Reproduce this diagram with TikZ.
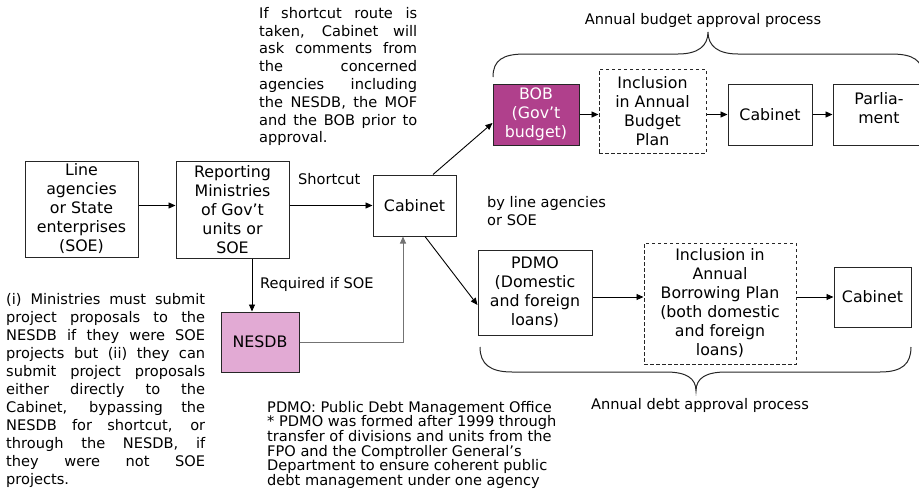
\documentclass[tikz,border=0pt]{standalone}
\usepackage{fontspec}
\setmainfont{DejaVu Sans}
\usetikzlibrary{arrows.meta,calc}
\definecolor{bobc}{RGB}{176,64,140}
\definecolor{nesc}{RGB}{226,170,212}
\tolerance=10000
\hbadness=10000
\hyphenpenalty=10000
\begin{document}
\begin{tikzpicture}[x=1pt,y=-1pt,
  box/.style={draw=black!85, line width=1pt, align=center, inner sep=1pt, font=\fontsize{15.8}{19}\selectfont},
  dbox/.style={box, dash pattern=on 3.5pt off 2.5pt},
  arr/.style={line width=0.9pt, -{Triangle[length=7pt,width=6pt]}},
  note/.style={inner sep=0pt, font=\fontsize{14.6}{17.8}\selectfont},
  brace/.style={line width=1pt, black!85}]
\useasboundingbox (0,0) rectangle (919,490);
\clip (0,0) rectangle (919,490);

% boxes
\node[box, minimum width=113pt, minimum height=96pt] (line) at (81.5,209) {Line\\agencies\\or State\\enterprises\\(SOE)};
\node[box, minimum width=113pt, minimum height=97pt] (rep) at (232.5,209.5) {Reporting\\Ministries\\of Gov’t\\units or\\SOE};
\node[box, minimum width=83pt, minimum height=61pt] (cab) at (414.5,205.5) {Cabinet};
\node[box, fill=nesc, minimum width=78pt, minimum height=60pt] (nesdb) at (260,342) {NESDB};
\node[box, fill=bobc, text=white, minimum width=86pt, minimum height=61pt] (bob) at (536,114.5) {BOB\\(Gov’t\\budget)};
\node[dbox, minimum width=107pt, minimum height=84pt] (incl1) at (652.5,111) {Inclusion\\in Annual\\Budget\\Plan};
\node[box, minimum width=84pt, minimum height=61pt] (cab2) at (770,114.5) {Cabinet};
\node[box, minimum width=92pt, minimum height=61pt, text depth=14pt] (parl) at (879,114.5) {Parlia-\\ment};
\node[box, minimum width=114pt, minimum height=85pt] (pdmo) at (535,292.5) {PDMO\\(Domestic\\and foreign\\loans)};
\node[dbox, minimum width=152pt, minimum height=121pt] (incl2) at (720,303.5) {Inclusion in\\Annual\\Borrowing Plan\\(both domestic\\and foreign\\loans)};
\node[box, minimum width=77pt, minimum height=60pt] (cab3) at (872.5,297) {Cabinet};

% connectors
\draw[arr] (line.east |- cab.west) -- (rep.west |- cab.west);
\draw[arr] (rep.east |- cab.west) -- (cab.west);
\draw[arr] ([xshift=19.5pt]rep.south) -- ([xshift=19.5pt]rep.south |- nesdb.north);
\draw[arr, black!55] (nesdb.east) -| ([xshift=-11.5pt]cab.south);
\draw[arr] ([xshift=18.5pt]cab.north) -- ([yshift=-8.5pt]bob.west);
\draw[arr] ([xshift=10.5pt]cab.south) -- ([yshift=-12.5pt]pdmo.west);
\draw[arr] (bob.east) -- (bob.east -| incl1.west);
\draw[arr] (incl1.east |- cab2.west) -- (cab2.west);
\draw[arr] (cab2.east) -- (parl.west);
\draw[arr] (pdmo.east |- cab3.west) -- (incl2.west |- cab3.west);
\draw[arr] (incl2.east |- cab3.west) -- (cab3.west);

% braces
\draw[brace] (493,77) .. controls (493,60) and (503,54) .. (525,54) -- (678,54) .. controls (698,54) and (708,46) .. (708,32) .. controls (708,46) and (718,54) .. (738,54) -- (891,54) .. controls (913,54) and (923,60) .. (923,77);
\draw[brace] (480,347) .. controls (480,364) and (490,372) .. (512,372) -- (666,372) .. controls (686,372) and (696,378) .. (696,391) .. controls (696,378) and (706,372) .. (726,372) -- (880,372) .. controls (902,372) and (911,364) .. (911,347);

% labels
\node[note] (budgetlbl) at (703,20) {Annual budget approval process};
\node[note] (debtlbl) at (700,405) {Annual debt approval process};
\node[note, anchor=west] (shortlbl) at (298,179) {Shortcut};
\node[note, anchor=west] (reqlbl) at (260,284) {Required if SOE};
\node[note, anchor=west, align=left] (bylbl) at (487,211) {by line agencies\\or SOE};

% paragraphs
\node[note, text width=158pt, align=justify, anchor=north west] (topnote) at (259,7)
 {If shortcut route is\linebreak taken, Cabinet will\linebreak ask comments from\linebreak the concerned\linebreak agencies including\linebreak the NESDB, the MOF\linebreak and the BOB prior to\linebreak approval.};
\node[note, text width=199pt, align=justify, anchor=north west, font=\fontsize{14.6}{18}\selectfont] (leftnote) at (6,293)
 {(i) Ministries must submit\linebreak project proposals to the\linebreak NESDB if they were SOE\linebreak projects but (ii) they can\linebreak submit project proposals\linebreak either directly to the\linebreak Cabinet, bypassing the\linebreak NESDB for shortcut, or\linebreak through the NESDB, if\linebreak they were not SOE\linebreak projects.};
\node[note, align=left, anchor=north west, font=\fontsize{14.6}{14.6}\selectfont] (botnote) at (267,401)
 {PDMO: Public Debt Management Office\\* PDMO was formed after 1999 through\\transfer of divisions and units from the\\FPO and the Comptroller General’s\\Department to ensure coherent public\\debt management under one agency};
\end{tikzpicture}
\end{document}
